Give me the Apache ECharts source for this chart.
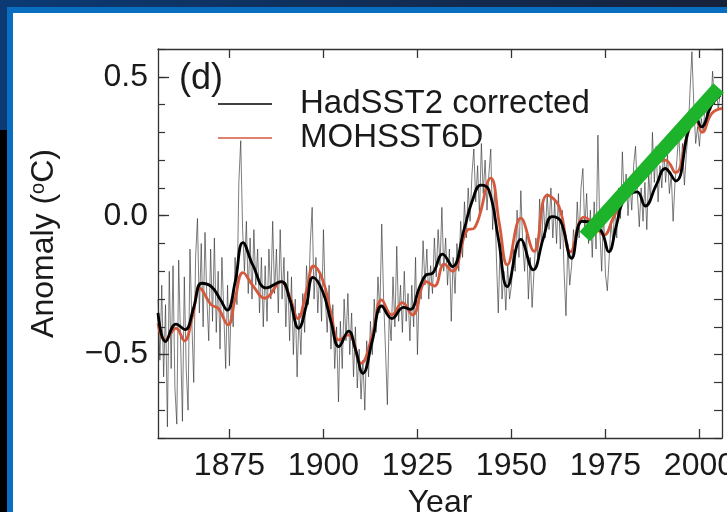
<!DOCTYPE html>
<html>
<head>
<meta charset="utf-8">
<script src="https://cdn.jsdelivr.net/npm/echarts@6/dist/echarts.min.js"></script>
<style>html,body{margin:0;padding:0;background:#0c2f5e;}#c{width:727px;height:512px;}</style>
</head>
<body>
<div id="c"></div>
<script>
// ---- tick labels ----
const xTicks = [1875, 1900, 1925, 1950, 1975, 2000];
const yTicks = [-0.5, 0, 0.5];

// ---- noisy HadSST2 record, half-year steps from 1856.0 ----
const noisyStart = 1856;
const noisyValues = [
 -0.30,-0.52,-0.25,-0.58,-0.32,-0.76,-0.20,-0.55,-0.18,-0.62,-0.75,-0.16,-0.45,-0.74,-0.22,-0.55,-0.70,-0.12,-0.38,-0.60,
 -0.15,-0.01,-0.35,-0.10,-0.40,-0.06,-0.30,-0.45,-0.12,-0.38,-0.08,-0.42,-0.20,-0.48,-0.15,-0.35,-0.55,-0.25,-0.54,-0.30,
 -0.40,-0.15,-0.32,0.12,0.27,-0.05,-0.20,-0.02,-0.28,-0.08,-0.30,-0.05,-0.25,-0.12,-0.35,-0.15,-0.40,-0.18,-0.38,-0.12,
 -0.30,-0.02,-0.28,-0.12,-0.35,-0.05,-0.30,-0.15,-0.40,-0.20,-0.45,-0.22,-0.50,-0.30,-0.58,-0.35,-0.50,-0.28,-0.42,-0.18,
 -0.32,-0.10,0.03,-0.30,-0.15,-0.35,-0.20,-0.38,-0.05,-0.30,-0.42,-0.25,-0.48,-0.32,-0.55,-0.40,-0.67,-0.38,-0.55,-0.30,
 -0.45,-0.28,-0.50,-0.35,-0.58,-0.40,-0.62,-0.48,-0.66,-0.52,-0.70,-0.45,-0.58,-0.38,-0.50,-0.30,-0.42,-0.22,-0.35,-0.03,
 -0.30,-0.48,-0.68,-0.35,-0.45,-0.22,-0.40,-0.11,-0.38,-0.25,-0.42,-0.20,-0.38,-0.28,-0.45,-0.25,-0.40,-0.15,-0.50,-0.25,
 -0.30,-0.09,-0.25,-0.12,-0.30,-0.18,-0.28,-0.08,-0.22,-0.05,-0.18,0.03,-0.20,-0.08,-0.25,-0.12,-0.38,-0.15,-0.28,-0.10,
 -0.20,-0.02,-0.15,0.05,-0.08,0.10,-0.02,0.15,0.24,0.05,0.18,0.00,0.26,0.08,0.20,0.02,0.15,0.24,-0.05,0.10,
 -0.15,-0.35,-0.10,-0.30,-0.20,-0.34,-0.18,-0.30,-0.25,-0.12,-0.20,0.02,-0.15,0.09,-0.10,-0.20,-0.05,-0.30,-0.15,-0.33,
 -0.20,-0.08,-0.15,0.06,-0.12,0.05,-0.08,0.08,-0.05,0.10,-0.08,0.05,-0.10,0.08,-0.12,0.02,-0.20,-0.36,-0.10,-0.25,
 -0.18,-0.05,-0.12,0.05,-0.08,0.10,0.17,-0.05,0.08,-0.10,0.02,-0.15,0.05,-0.12,0.29,-0.05,-0.20,0.02,-0.21,-0.27,
 -0.15,-0.02,-0.10,0.05,-0.08,0.10,-0.01,0.23,0.05,0.15,0.00,0.12,0.02,0.18,0.25,0.08,-0.04,0.10,-0.02,0.12,
 -0.05,0.15,0.05,0.30,0.12,0.25,0.05,0.18,0.10,0.25,0.12,0.22,0.08,0.15,-0.02,0.12,0.20,0.30,0.15,0.26,
 0.11,0.22,0.30,0.45,0.59,0.40,0.26,0.32,0.25,0.35,0.30,0.40,0.36,0.45,0.38,0.52,0.40,0.46,0.38,0.44
];

// ---- smoothed HadSST2 corrected ----
const hadYears = [1856,1858,1860.8,1863.2,1865.5,1867.6,1870.2,1872.5,1874.4,1876.5,1878.6,1881.3,1884.8,1888.8,1891,1893.4,1895.5,1897.2,1899.8,1902,1904.1,1906.7,1908.5,1910.5,1913,1915.5,1918.2,1921.3,1923.1,1925.5,1927.3,1929,1931.7,1934.3,1937.4,1939.5,1941.9,1944,1946.5,1948.9,1952.5,1955.8,1958.5,1960.8,1963.1,1966,1968.8,1972,1974.1,1975.9,1978,1979.9,1983.4,1985.6,1988.5,1990.9,1993.7,1997.1,1998.9,2000.5,2003.3,2005.5];
const hadValues = [-0.35,-0.453,-0.39,-0.41,-0.33,-0.243,-0.255,-0.30,-0.34,-0.24,-0.097,-0.18,-0.26,-0.237,-0.30,-0.405,-0.32,-0.222,-0.273,-0.38,-0.471,-0.415,-0.48,-0.567,-0.45,-0.325,-0.37,-0.33,-0.337,-0.26,-0.213,-0.207,-0.138,-0.183,-0.05,0.05,0.11,0.092,-0.08,-0.255,-0.085,-0.195,-0.08,-0.003,-0.02,-0.153,-0.02,-0.03,-0.06,-0.13,-0.03,0.056,0.086,0.035,0.11,0.17,0.125,0.31,0.36,0.32,0.40,0.434];

// ---- smoothed MOHSST6D ----
const mohYears = [1856,1857.9,1860.8,1863,1865.2,1867.1,1870.2,1872,1874.6,1876.5,1878.6,1881.3,1884.4,1888.8,1891,1893.2,1895.5,1897.4,1899.8,1902,1904.1,1906.7,1910,1913,1915.5,1918.2,1921,1923.7,1927.3,1929.5,1932.1,1934.3,1938.3,1940.1,1944.5,1946.8,1948.9,1952.5,1956,1959.5,1962.6,1965.7,1969.3,1972,1974.6,1977,1979.9,1983.9,1987.4,1990.9,1993.6,1997,1998.9,2000.7,2003.3,2006];
const mohValues = [-0.387,-0.447,-0.405,-0.45,-0.36,-0.261,-0.321,-0.333,-0.393,-0.30,-0.205,-0.253,-0.297,-0.237,-0.29,-0.37,-0.27,-0.181,-0.231,-0.35,-0.447,-0.429,-0.531,-0.43,-0.303,-0.357,-0.313,-0.357,-0.237,-0.253,-0.174,-0.2,-0.051,-0.045,0.135,-0.03,-0.177,-0.009,-0.128,0.074,0.035,-0.13,-0.005,-0.03,-0.07,-0.01,0.068,0.158,0.182,0.20,0.155,0.30,0.35,0.30,0.368,0.386];

// ---- green trend annotation ----
const trendYears = [1969.5, 2005.1];
const trendValues = [-0.075, 0.46];

const FONT = 'Liberation Sans, Arial, Helvetica, sans-serif';
const TXT = '#1a1a1a';
const FRAME = '#333333';
const RED = '#d4593d';

const chart = echarts.init(document.getElementById('c'), null, {renderer: 'canvas'});

const pair = (xs, ys) => xs.map((x, i) => [x, ys[i]]);
const noisyData = noisyValues.map((v, i) => [noisyStart + i * 0.5, v]);

const fmtY = v => {
  if (Math.abs(v) < 1e-9) return '0.0';
  return (v < 0 ? '\u2212' : '') + Math.abs(v).toFixed(1);
};

chart.setOption({
  animation: false,
  backgroundColor: {
    type: 'linear', x: 0, y: 0, x2: 1, y2: 0,
    colorStops: [{offset: 0, color: '#0b3a74'}, {offset: 1, color: '#17213a'}]
  },
  graphic: [
    {type: 'rect', z: -10, silent: true, shape: {x: 0, y: 130, width: 7, height: 382}, style: {fill: '#000'}},
    {type: 'rect', z: -9, silent: true, shape: {x: 7, y: 7, width: 720, height: 505}, style: {fill: '#0a6ec0'}},
    {type: 'rect', z: -8, silent: true, shape: {x: 13, y: 13, width: 714, height: 499}, style: {fill: '#ffffff'}},
    {type: 'text', z: 100, left: 179, top: 61, style: {text: '(d)', font: '36px ' + FONT, fill: TXT}}
  ],
  grid: {left: 158, right: 5, top: 49, bottom: 74, containLabel: false, outerBoundsMode: 'none'},
  legend: {
    orient: 'vertical', left: 213, top: 82, itemGap: 0,
    itemWidth: 54, itemHeight: 1.5,
    textStyle: {fontFamily: FONT, fontSize: 33, color: TXT, lineHeight: 34, padding: [0, 0, 0, 23]},
    data: [
      {name: 'HadSST2 corrected', icon: 'rect', itemStyle: {color: '#000'}},
      {name: 'MOHSST6D', icon: 'rect', itemStyle: {color: RED}}
    ]
  },
  xAxis: [
    {
      type: 'value', min: 1856, max: 2006, position: 'bottom',
      name: 'Year', nameLocation: 'middle', nameGap: 38,
      nameTextStyle: {fontFamily: FONT, fontSize: 32, color: TXT},
      axisLine: {show: true, onZero: false, lineStyle: {color: FRAME, width: 1.3}},
      axisTick: {show: true, inside: true, length: 9, customValues: xTicks, lineStyle: {color: FRAME, width: 1.3}},
      axisLabel: {show: true, customValues: xTicks, formatter: v => String(v), margin: 12, fontFamily: FONT, fontSize: 32, color: TXT},
      splitLine: {show: false}
    },
    {
      type: 'value', min: 1856, max: 2006, position: 'top',
      axisLine: {show: true, onZero: false, lineStyle: {color: FRAME, width: 1.3}},
      axisTick: {show: true, inside: true, length: 9, customValues: xTicks, lineStyle: {color: FRAME, width: 1.3}},
      axisLabel: {show: false},
      splitLine: {show: false}
    }
  ],
  yAxis: [
    {
      type: 'value', min: -0.8, max: 0.6, interval: 0.1, position: 'left',
      name: 'Anomaly ({sup|o}C)', nameLocation: 'middle', nameGap: 98, nameRotate: 90,
      nameTextStyle: {fontFamily: FONT, fontSize: 32, color: TXT,
        rich: {sup: {fontFamily: FONT, fontSize: 20, color: TXT, verticalAlign: 'top', padding: [0, 0, 12, 0]}}},
      axisLine: {show: true, onZero: false, lineStyle: {color: FRAME, width: 1.3}},
      axisTick: {show: true, inside: true, length: 11, customValues: yTicks, lineStyle: {color: FRAME, width: 1.3}},
      axisLabel: {show: true, customValues: yTicks, formatter: fmtY, margin: 10, fontFamily: FONT, fontSize: 32, color: TXT},
      splitLine: {show: false}
    },
    {
      type: 'value', min: -0.8, max: 0.6, interval: 0.1, position: 'left', offset: 0,
      axisLine: {show: false, onZero: false},
      axisTick: {show: true, inside: true, length: 7, lineStyle: {color: FRAME, width: 1.2}},
      axisLabel: {show: false},
      splitLine: {show: false}
    },
    {
      type: 'value', min: -0.8, max: 0.6, interval: 0.1, position: 'right',
      axisLine: {show: true, onZero: false, lineStyle: {color: FRAME, width: 1.3}},
      axisTick: {show: true, inside: true, length: 8, lineStyle: {color: FRAME, width: 1.2}},
      axisLabel: {show: false},
      splitLine: {show: false}
    }
  ],
  series: [
    {
      name: 'noisy', type: 'line', data: noisyData, showSymbol: false, symbol: 'none',
      lineStyle: {color: '#333333', width: 0.8, opacity: 0.8}, z: 2, silent: true
    },
    {
      name: 'MOHSST6D', type: 'line', data: pair(mohYears, mohValues), smooth: 0.45, symbol: 'none',
      lineStyle: {color: RED, width: 2.8}, itemStyle: {color: RED}, z: 3
    },
    {
      name: 'HadSST2 corrected', type: 'line', data: pair(hadYears, hadValues), smooth: 0.45, symbol: 'none',
      lineStyle: {color: '#000', width: 2.8}, itemStyle: {color: '#000'}, z: 4
    },
    {
      name: 'trend', type: 'line', data: pair(trendYears, trendValues), symbol: 'none',
      lineStyle: {color: '#1db32b', width: 14, cap: 'butt'}, z: 10, silent: true
    }
  ]
});
</script>
</body>
</html>
